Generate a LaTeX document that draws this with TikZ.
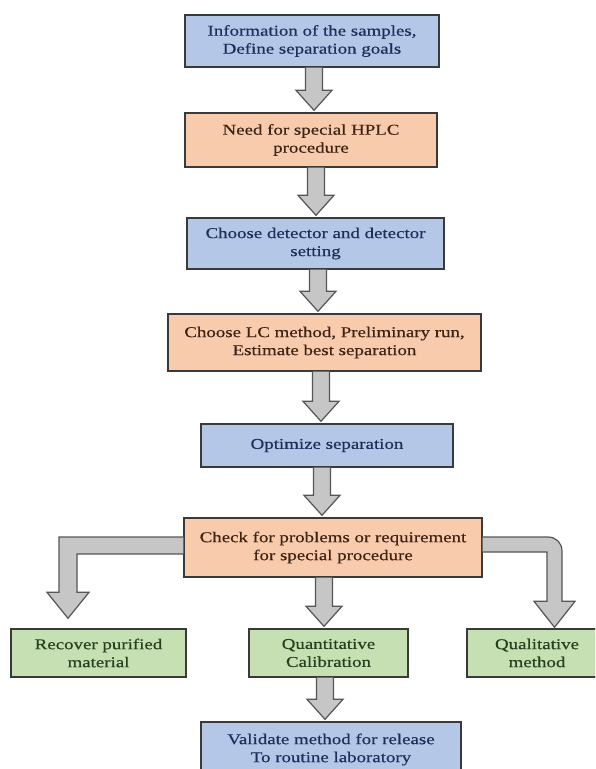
\documentclass[tikz,border=0pt]{standalone}
\usepackage{fontspec}
\setmainfont{Liberation Serif}[FakeStretch=1.26,FakeBold=0.4]
\usetikzlibrary{calc}
\definecolor{boxblue}{HTML}{B4C7E7}
\definecolor{boxorange}{HTML}{F8CBAD}
\definecolor{boxgreen}{HTML}{C6E0B4}
\definecolor{txtblue}{HTML}{1F2D5A}
\definecolor{txtbrown}{HTML}{3D2314}
\definecolor{txtgreen}{HTML}{24401C}
\definecolor{bordercol}{HTML}{3A3A3A}
\definecolor{arrowfill}{HTML}{C6C6C6}
\definecolor{arrowline}{HTML}{555555}
\tikzset{
  flowbox/.style={draw=bordercol, line width=1.4pt, inner sep=0pt, align=center,
    font=\fontsize{15}{18}\selectfont},
  bluebox/.style={flowbox, fill=boxblue, text=txtblue},
  orangebox/.style={flowbox, fill=boxorange, text=txtbrown},
  greenbox/.style={flowbox, fill=boxgreen, text=txtgreen},
  arrowsty/.style={fill=arrowfill, draw=arrowline, line width=1.2pt, line join=miter}
}
\newcommand{\blockarrow}[3]{%
  \draw[arrowsty] let \p1=(#2.south), \p2=(#3.north) in
   ({#1-8.5},\y1) -- ({#1-8.5},\y2+22pt) -- ({#1-18},\y2+22pt) -- (#1,\y2+2pt)
   -- ({#1+18},\y2+22pt) -- ({#1+8.5},\y2+22pt) -- ({#1+8.5},\y1);}
\begin{document}
\begin{tikzpicture}[x=1pt,y=-1pt]
\useasboundingbox (0,0) rectangle (595,769);
\clip (0,0) rectangle (595,769);
\fill[white] (0,0) rectangle (595,769);
% boxes
\node[bluebox, minimum width=254pt, minimum height=52pt] (info) at (312,41) {Information of the samples,\\Define separation goals};
\node[orangebox, minimum width=252pt, minimum height=54pt] (need) at (311,140) {Need for special HPLC\\procedure};
\node[bluebox, minimum width=257pt, minimum height=51pt] (det) at (315.5,243.5) {Choose detector and detector\\setting};
\node[orangebox, minimum width=313pt, minimum height=57pt] (lc) at (324.5,342.5) {Choose LC method, Preliminary run,\\Estimate best separation};
\node[bluebox, minimum width=252pt, minimum height=43pt] (opt) at (327,445.5) {Optimize separation};
\node[orangebox, minimum width=298pt, minimum height=59pt] (check) at (333,547.5) {Check for problems or requirement\\for special procedure};
\node[greenbox, minimum width=175pt, minimum height=48pt] (rec) at (98.5,653) {Recover purified\\material};
\node[greenbox, minimum width=159pt, minimum height=48pt] (quant) at (328.5,653) {Quantitative\\Calibration};
\node[greenbox, minimum width=140pt, minimum height=48pt, text width=128pt] (qual) at (537,653) {Qualitative\\method};
\node[bluebox, minimum width=260pt, minimum height=55pt] (val) at (331,749.5) {Validate method for release\\To routine laboratory};
% straight block arrows
\blockarrow{314}{info}{need}
\blockarrow{316}{need}{det}
\blockarrow{318}{det}{lc}
\blockarrow{321}{lc}{opt}
\blockarrow{322}{opt}{check}
\blockarrow{324}{check}{quant}
\blockarrow{325}{quant}{val}
% left branch
\draw[arrowsty] let \p1=(check.west), \p2=(rec.north) in
  (\x1,537) -- (59,537) -- (59,\y2+36pt) -- (47,\y2+36pt) -- (68,\y2+10pt)
  -- (89,\y2+36pt) -- (77,\y2+36pt) -- (77,554) -- (\x1,554);
% right branch
\draw[arrowsty] let \p1=(check.east), \p2=(qual.north) in
  (\x1,537) -- (548,537) .. controls (556,537) and (562,543) .. (562,551)
  -- (562,\y2+27pt) -- (575,\y2+27pt) -- (554.5,\y2+1pt) -- (534,\y2+27pt)
  -- (547,\y2+27pt) -- (547,552) -- (\x1,552);
\end{tikzpicture}
\end{document}
